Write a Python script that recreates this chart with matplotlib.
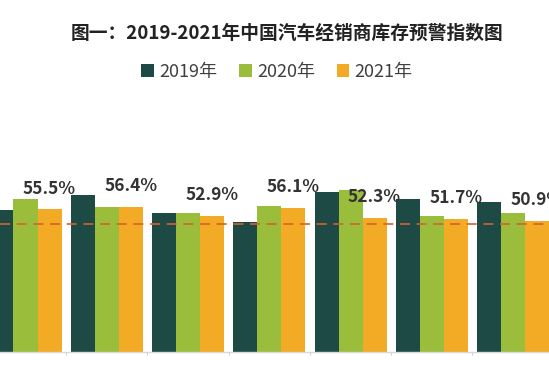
import matplotlib
matplotlib.use("Agg")
import matplotlib.pyplot as plt
import numpy as np

plt.rcParams['font.family'] = ['Noto Sans CJK SC', 'DejaVu Sans']

categories = ['1月', '2月', '3月', '4月', '5月', '6月', '7月']
series_names = ['2019年', '2020年', '2021年']
v2019 = [55.2, 61.0, 54.1, 50.6, 62.2, 59.5, 58.3]
v2020 = [59.5, 56.4, 54.1, 56.8, 62.9, 52.9, 54.1]
v2021 = [55.5, 56.4, 52.9, 56.1, 52.3, 51.7, 50.9]
labels2021 = ['55.5%', '56.4%', '52.9%', '56.1%', '52.3%', '51.7%', '50.9%']
warning_line = 50.0
title = '图一：2019-2021年中国汽车经销商库存预警指数图'

colors = ['#1e4a45', '#9bbd3c', '#f3aa25']

W, H = 549, 366
fig = plt.figure(figsize=(W / 100, H / 100), dpi=100)
fig.patch.set_facecolor('white')

px_per_unit = 81.25
x0_px = 25.5
axis_bottom_px = 352
axis_top_px = 100
scale = 2.57  # px per percent

ax = fig.add_axes([0, (H - axis_bottom_px) / H, 1, (axis_bottom_px - axis_top_px) / H])
ax.set_xlim(-x0_px / px_per_unit, (W - x0_px) / px_per_unit)
ax.set_ylim(0, (axis_bottom_px - axis_top_px) / scale)
ax.set_facecolor('none')

x = np.arange(len(categories))
w = 24 / px_per_unit
for k, (vals, c, name) in enumerate(zip([v2019, v2020, v2021], colors, series_names)):
    ax.bar(x + (k - 1) * w, vals, width=w, color=c, label=name, zorder=2)

for xi, v, lab in zip(x, v2021, labels2021):
    ax.annotate(lab, (xi + w, v), xytext=(0, 15), textcoords='offset points',
                ha='center', va='center', fontsize=12.5, fontweight='bold',
                color='#333333', zorder=4)

ax.axhline(warning_line, color='#d8602b', lw=1.2, dashes=(6, 4), zorder=3)

for s in ['top', 'left', 'right']:
    ax.spines[s].set_visible(False)
ax.spines['bottom'].set_color('#d9d9d9')
ax.spines['bottom'].set_linewidth(1.0)
ax.set_yticks([])
ax.set_xticks(list(x[:-1] + 0.5))
ax.set_xticklabels([])
ax.tick_params(axis='x', length=2.5, color='#d0d0d0', direction='out')

fig.text(287 / W, 1 - 33 / H, title, ha='center', va='center', fontsize=13.5,
         fontweight='bold', color='#222222')

handles, labs = ax.get_legend_handles_labels()
leg = fig.legend(handles, labs, loc='center', bbox_to_anchor=(277 / W, 1 - 72 / H),
                 ncol=3, frameon=False, fontsize=13, handlelength=0.7, handleheight=0.7,
                 handletextpad=0.3, columnspacing=1.2, labelcolor='#404040')

fig.savefig('out.png', dpi=100, facecolor='white')
